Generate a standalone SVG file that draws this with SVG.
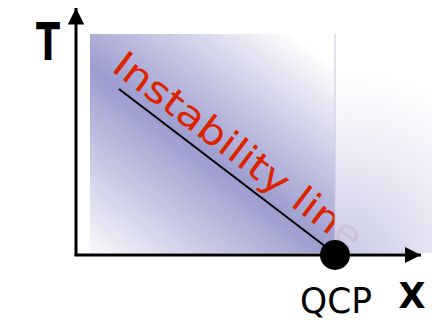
<svg xmlns="http://www.w3.org/2000/svg" width="432" height="323" viewBox="0 0 432 323">
<style>
.lbl{font-family:"DejaVu Sans","Liberation Sans",sans-serif;fill:#000}
.axis{stroke:#000;stroke-width:3;fill:none}
</style>
<defs>
<linearGradient id="gL" gradientUnits="userSpaceOnUse" x1="28" y1="208" x2="210" y2="-30">
<stop offset="0" stop-color="#fafafd"/>
<stop offset="0.5" stop-color="#9c9ccf"/>
<stop offset="1" stop-color="#ffffff"/>
</linearGradient>
<radialGradient id="gR" gradientUnits="userSpaceOnUse" cx="345" cy="260" r="190">
<stop offset="0" stop-color="#c4c4e2"/>
<stop offset="0.6" stop-color="#ececf6"/>
<stop offset="1" stop-color="#ffffff"/>
</radialGradient>
<marker id="ah" viewBox="0 0 10 10" refX="10" refY="5" markerWidth="5.5" markerHeight="5.5" orient="auto" markerUnits="strokeWidth">
<path d="M0,0 L10,5 L0,10 Z" fill="#000"/>
</marker>
</defs>
<g id="background">
<rect x="90" y="34" width="245" height="219" fill="url(#gL)"/>
</g>
<g id="instability-line">
<line x1="119" y1="89" x2="330" y2="250" stroke="#000" stroke-width="2"/>
<text class="lbl" x="110" y="70" font-size="37" style="fill:#dd2200" textLength="302" lengthAdjust="spacingAndGlyphs" transform="rotate(37 110 70)">Instability line</text>
</g>
<g id="right-region">
<rect x="335" y="34" width="97" height="219" fill="url(#gR)" opacity="0.93"/>
<line x1="335" y1="34" x2="335" y2="253" stroke="#c8c8e0" stroke-width="1"/>
</g>
<g id="connectors">
<line class="axis" x1="76" y1="256" x2="76" y2="8" marker-end="url(#ah)"/>
<line class="axis" x1="74.5" y1="255" x2="421" y2="255" marker-end="url(#ah)"/>
</g>
<g id="QCP">
<circle cx="335" cy="255" r="15" fill="#000"/>
<text class="lbl" x="300" y="313" font-size="36" textLength="72" lengthAdjust="spacingAndGlyphs">QCP</text>
</g>
<g id="T-label">
<text class="lbl" x="48" y="60" font-size="52" text-anchor="middle" font-weight="bold" textLength="24" lengthAdjust="spacingAndGlyphs">T</text>
</g>
<g id="X-label">
<text class="lbl" x="412" y="308" font-size="36" text-anchor="middle" font-weight="bold" textLength="27" lengthAdjust="spacingAndGlyphs">X</text>
</g>
</svg>
